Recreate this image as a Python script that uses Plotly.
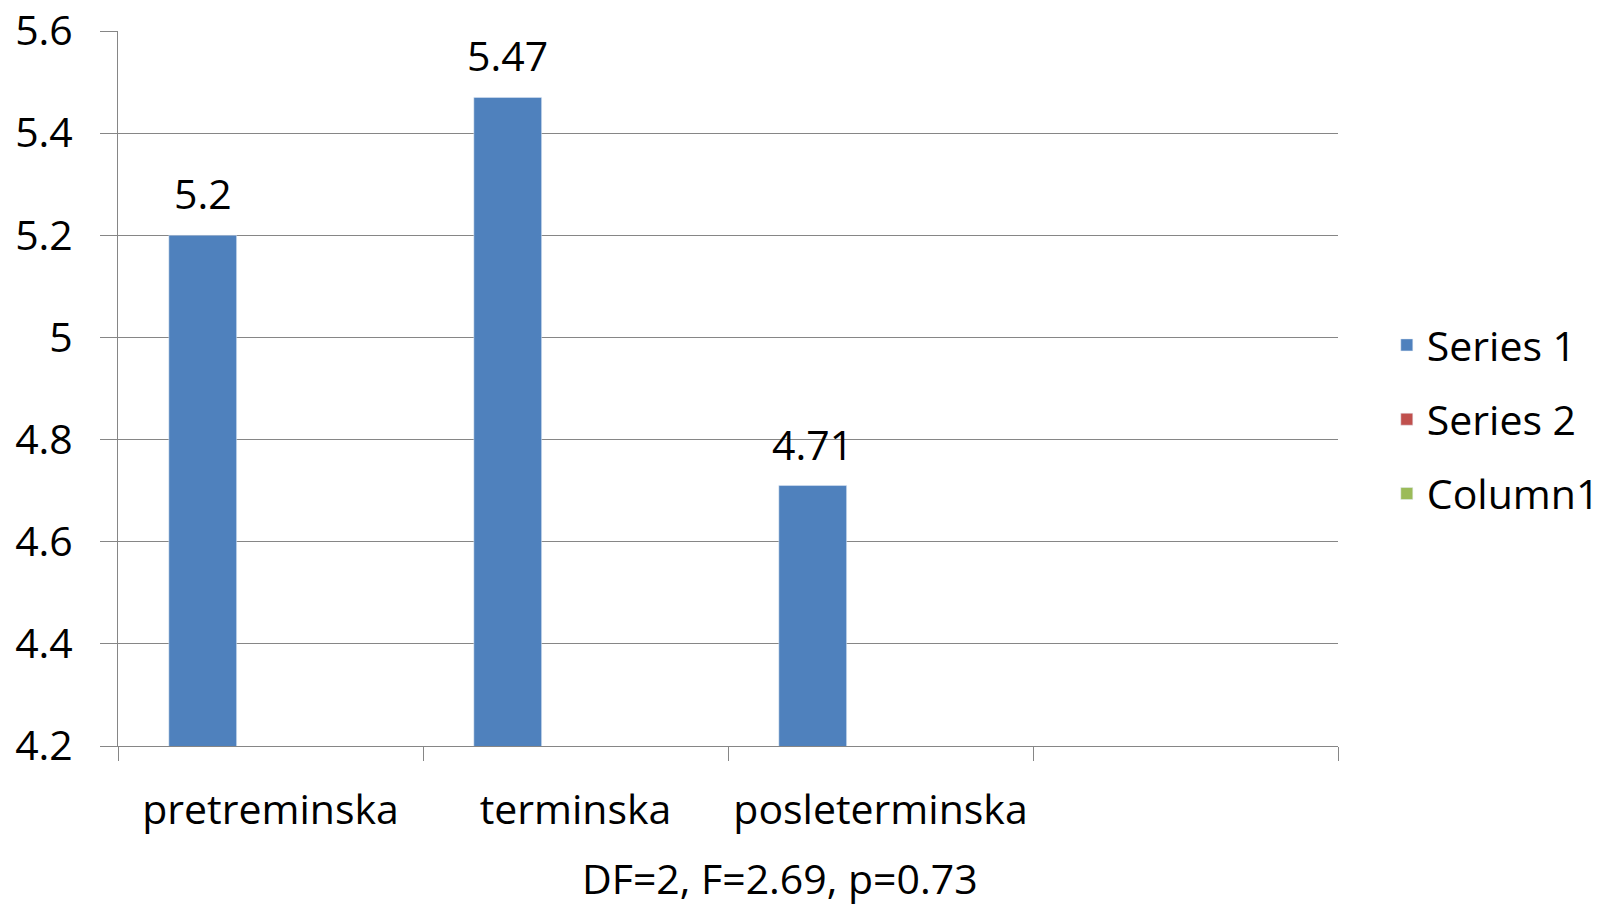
import plotly.graph_objects as go

categories = ["pretreminska", "terminska", "posleterminska", " "]
series1 = [5.2, 5.47, 4.71, None]
series2 = [None, None, None, None]
column1 = [None, None, None, None]
y_ticks = [4.2, 4.4, 4.6, 4.8, 5.0, 5.2, 5.4, 5.6]
y_tick_text = ["4.2", "4.4", "4.6", "4.8", "5", "5.2", "5.4", "5.6"]
note = "DF=2, F=2.69, p=0.73"

FONT = "Open Sans"
FS = 41
W, H = 1602, 905
ML, MR, MT, MB = 118, 264, 31, 159
BARGAP = 1 / 3
N_SERIES = 3

fig = go.Figure()
fig.add_trace(go.Bar(name="Series 1", x=categories, y=series1, marker_color="#4F81BD",
                     legendgroup="a"))
fig.add_trace(go.Bar(name="Series 2", x=categories, y=series2, marker_color="#C0504D",
                     legendgroup="b"))
fig.add_trace(go.Bar(name="Column1", x=categories, y=column1, marker_color="#9BBB59",
                     legendgroup="c"))

# data labels for Series 1, placed above the first bar of each group
bar_px = (W - ML - MR) / len(categories) * (1 - BARGAP) / N_SERIES
annotations = []
for c, v in zip(categories, series1):
    if v is None:
        continue
    annotations.append(dict(x=c, y=v, xref="x", yref="y", text=f"{v}", showarrow=False,
                            xanchor="center", yanchor="bottom", xshift=-bar_px, yshift=12,
                            font=dict(size=FS, family=FONT, color="#000000")))
annotations.append(dict(text=note, xref="paper", yref="paper", x=0.5426, y=-0.189,
                        xanchor="center", yanchor="middle", showarrow=False, yshift=3,
                        font=dict(size=FS, family=FONT)))

fig.update_layout(
    width=W, height=H,
    margin=dict(l=ML, r=MR, t=MT, b=MB, autoexpand=False),
    paper_bgcolor="white", plot_bgcolor="white",
    barmode="group", bargap=BARGAP, bargroupgap=0,
    font=dict(family=FONT, size=FS, color="#000000"),
    showlegend=True,
    legend=dict(x=1.04, y=0.457, xanchor="left", yanchor="middle",
                font=dict(size=FS, family=FONT), tracegroupgap=18,
                itemwidth=30),
    annotations=annotations,
)
fig.update_xaxes(
    type="category", categoryorder="array", categoryarray=categories,
    tickson="boundaries", ticks="outside", ticklen=14, tickcolor="#868686", tickwidth=1,
    showline=True, linecolor="#868686", linewidth=1, showgrid=False, automargin=False,
    tickfont=dict(size=FS, family=FONT), ticklabelstandoff=28,
)
fig.update_yaxes(
    range=[4.2, 5.6], tickvals=y_ticks, ticktext=y_tick_text,
    ticks="outside", ticklen=17, tickcolor="#868686", tickwidth=1,
    showline=True, linecolor="#868686", linewidth=1, automargin=False,
    showgrid=True, gridcolor="#868686", gridwidth=1, zeroline=False,
    tickfont=dict(size=FS, family=FONT), ticklabelstandoff=19,
    ticklabeloverflow="allow",
)
fig.write_html("out.html", config={"displayModeBar": False},
               post_script="document.body.style.margin='0';")
